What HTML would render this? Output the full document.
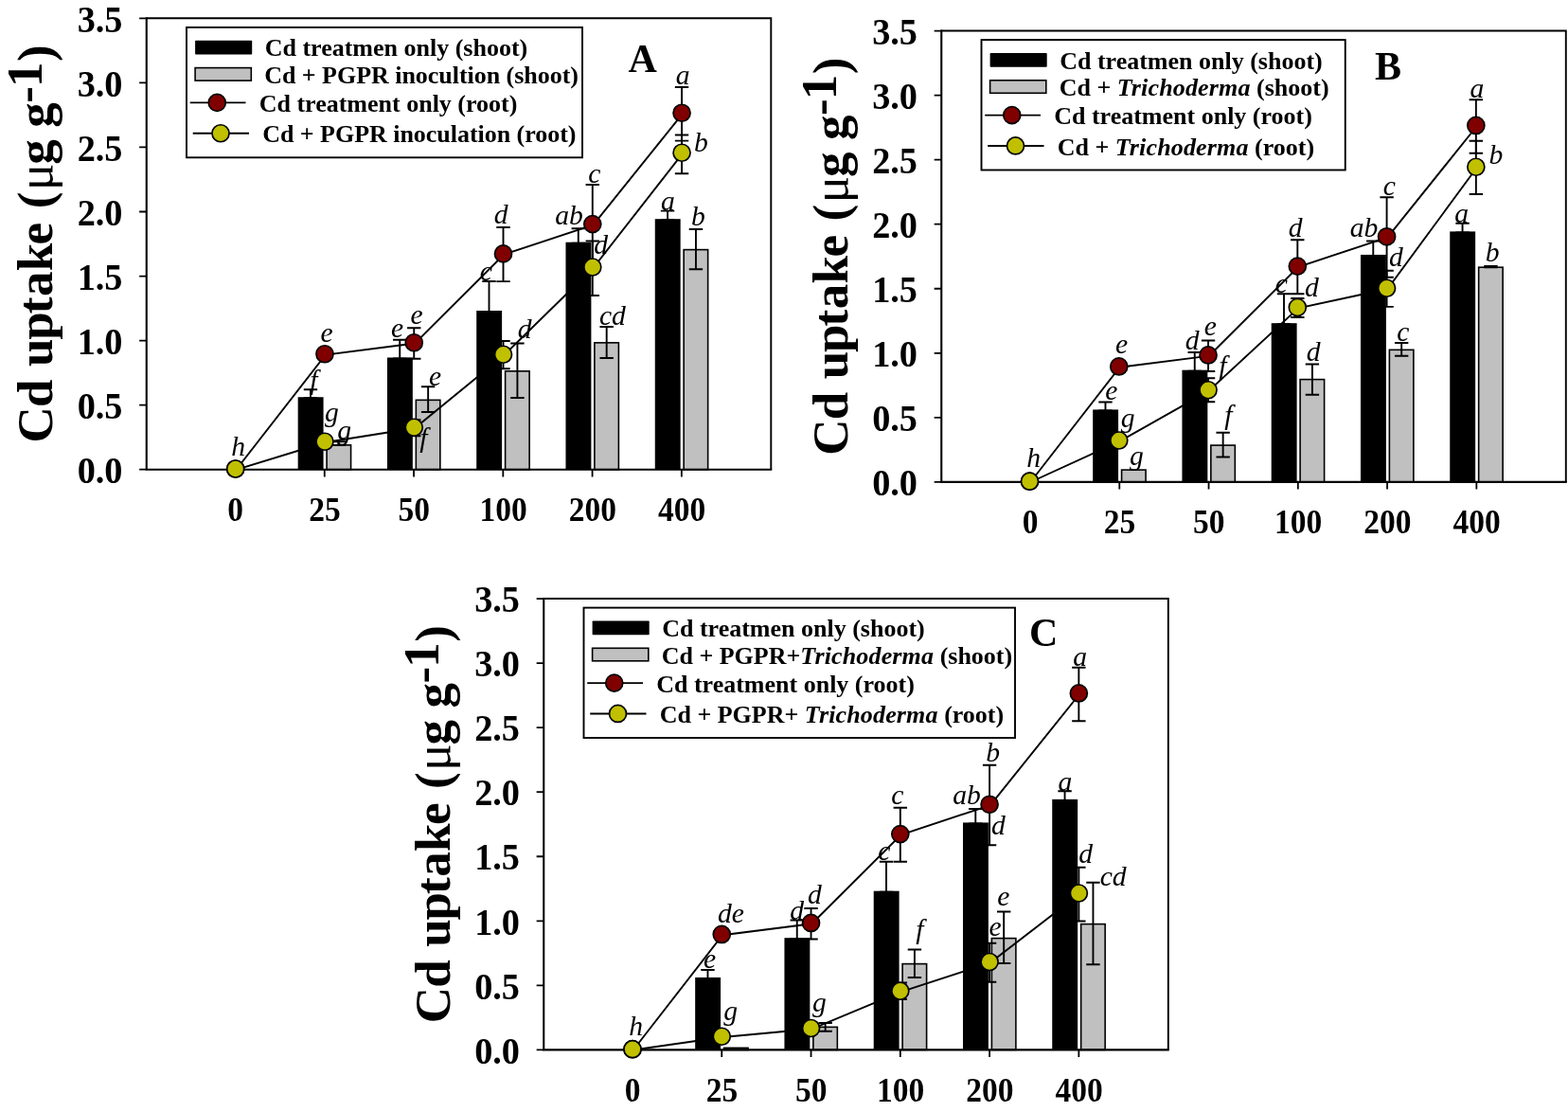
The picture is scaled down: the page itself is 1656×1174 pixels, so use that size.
<!DOCTYPE html>
<html lang="en">
<head>
<meta charset="utf-8">
<title>Cd uptake in shoot and root</title>
<style>html,body{margin:0;padding:0;background:#fff}svg{display:block}text{white-space:pre}</style>
</head>
<body>
<svg width="1656" height="1174" viewBox="0 0 1656 1174">
<rect width="1656" height="1174" fill="#fff"/>
<g transform="translate(0 0)">
<g>
<rect x="314.67" y="419.25" width="26.9" height="76.45" fill="#000"/>
<rect x="408.94" y="377.5" width="26.9" height="118.2" fill="#000"/>
<rect x="503.21" y="328" width="26.9" height="167.7" fill="#000"/>
<rect x="597.48" y="255.75" width="26.9" height="239.95" fill="#000"/>
<rect x="691.75" y="231.2" width="26.9" height="264.5" fill="#000"/>
<rect x="345.07" y="469.85" width="25.5" height="25.85" fill="#c0c0c0" stroke="#000" stroke-width="1.6"/>
<rect x="439.34" y="422.35" width="25.5" height="73.35" fill="#c0c0c0" stroke="#000" stroke-width="1.6"/>
<rect x="533.61" y="391.85" width="25.5" height="103.85" fill="#c0c0c0" stroke="#000" stroke-width="1.6"/>
<rect x="627.88" y="361.85" width="25.5" height="133.85" fill="#c0c0c0" stroke="#000" stroke-width="1.6"/>
<rect x="722.15" y="263.6" width="25.5" height="232.1" fill="#c0c0c0" stroke="#000" stroke-width="1.6"/>
</g>
<g fill="none" stroke="#000" stroke-width="1.9">
<path d="M327.97 411.25V420.25M320.77 411.25H335.17M320.77 420.25H335.17"/>
<path d="M357.87 466.25V470M350.67 466.25H365.07M350.67 470H365.07"/>
<path d="M422.24 358.75V378.5M415.04 358.75H429.44M415.04 378.5H429.44"/>
<path d="M452.14 408.25V435M444.94 408.25H459.34M444.94 435H459.34"/>
<path d="M516.51 297V329M509.31 297H523.71M509.31 329H523.71"/>
<path d="M546.41 362.5V420M539.21 362.5H553.61M539.21 420H553.61"/>
<path d="M610.78 241.25V256.75M603.58 241.25H617.98M603.58 256.75H617.98"/>
<path d="M640.68 345V378M633.48 345H647.88M633.48 378H647.88"/>
<path d="M705.05 222.6V232.2M697.85 222.6H712.25M697.85 232.2H712.25"/>
<path d="M734.95 242V284.25M727.75 242H742.15M727.75 284.25H742.15"/>
<path d="M437.24 346.25V378.75M430.04 346.25H444.44M430.04 378.75H444.44"/>
<path d="M437.24 443.3V460.2M430.04 443.3H444.44M430.04 460.2H444.44"/>
<path d="M531.51 240V297.1M524.31 240H538.71M524.31 297.1H538.71"/>
<path d="M531.51 360V389.25M524.31 360H538.71M524.31 389.25H538.71"/>
<path d="M625.78 195V279.6M618.58 195H632.98M618.58 279.6H632.98"/>
<path d="M625.78 254.5V312M618.58 254.5H632.98M618.58 312H632.98"/>
<path d="M720.05 92V148.6M712.85 92H727.25M712.85 148.6H727.25"/>
<path d="M720.05 142.5V183.25M712.85 142.5H727.25M712.85 183.25H727.25"/>
</g>
<g fill="none" stroke="#000" stroke-width="1.9" transform="translate(0.8 0.8)">
<polyline points="248.7,495 342.97,373.75 437.24,361.75 531.51,267.9 625.78,236.6 720.05,119.25"/>
<polyline points="248.7,495 342.97,466.25 437.24,451.25 531.51,374.25 625.78,282 720.05,161.25"/>
</g>
<g fill="none" stroke="#000">
<path d="M154.75 19.3H814.3V495.7" stroke-width="1.9"/>
<path d="M154.75 18.35V495.7H815.25" stroke-width="2.1"/>
<path d="M154.75 495.7h-7.6M154.75 427.65h-7.6M154.75 359.6h-7.6M154.75 291.55h-7.6M154.75 223.5h-7.6M154.75 155.45h-7.6M154.75 87.4h-7.6M154.75 19.35h-7.6M248.5 495.7v7.7M342.77 495.7v7.7M437.04 495.7v7.7M531.31 495.7v7.7M625.58 495.7v7.7M719.85 495.7v7.7" stroke-width="1.8"/>
</g>
<g stroke="#000" stroke-width="1.7">
<circle cx="248.7" cy="495" r="9.0" fill="#800000"/>
<circle cx="342.97" cy="373.75" r="9.0" fill="#800000"/>
<circle cx="437.24" cy="361.75" r="9.0" fill="#800000"/>
<circle cx="531.51" cy="267.9" r="9.0" fill="#800000"/>
<circle cx="625.78" cy="236.6" r="9.0" fill="#800000"/>
<circle cx="720.05" cy="119.25" r="9.0" fill="#800000"/>
<circle cx="248.7" cy="495" r="9.0" fill="#c0c000"/>
<circle cx="342.97" cy="466.25" r="9.0" fill="#c0c000"/>
<circle cx="437.24" cy="451.25" r="9.0" fill="#c0c000"/>
<circle cx="531.51" cy="374.25" r="9.0" fill="#c0c000"/>
<circle cx="625.78" cy="282" r="9.0" fill="#c0c000"/>
<circle cx="720.05" cy="161.25" r="9.0" fill="#c0c000"/>
</g>
<g font-family="'Liberation Serif', 'Times New Roman', Times, serif" font-weight="bold" fill="#000">
<g font-size="38.3" text-anchor="end">
<text transform="translate(129.5 509.9) scale(1 1.045)">0.0</text>
<text transform="translate(129.5 441.85) scale(1 1.045)">0.5</text>
<text transform="translate(129.5 373.8) scale(1 1.045)">1.0</text>
<text transform="translate(129.5 305.75) scale(1 1.045)">1.5</text>
<text transform="translate(129.5 237.7) scale(1 1.045)">2.0</text>
<text transform="translate(129.5 169.65) scale(1 1.045)">2.5</text>
<text transform="translate(129.5 101.6) scale(1 1.045)">3.0</text>
<text transform="translate(129.5 33.55) scale(1 1.045)">3.5</text>
</g>
<g font-size="33.5" text-anchor="middle">
<text transform="translate(248.7 550.2) scale(1 1.045)">0</text>
<text transform="translate(342.97 550.2) scale(1 1.045)">25</text>
<text transform="translate(437.24 550.2) scale(1 1.045)">50</text>
<text transform="translate(531.51 550.2) scale(1 1.045)">100</text>
<text transform="translate(625.78 550.2) scale(1 1.045)">200</text>
<text transform="translate(720.05 550.2) scale(1 1.045)">400</text>
</g>
<text transform="translate(55.3 467.5) rotate(-90)" font-size="53"><tspan x="0 37.4 50.4 80.4 108.8 136.25 154.4 181.3 209.1 222.1 247.3">Cd uptake (</tspan><tspan x="266.5" font-weight="normal">μ</tspan><tspan x="293.65 306.65 332.8">g g</tspan><tspan x="358.8 375.4" dy="-11.5">-1</tspan><tspan x="402.4" dy="11.5">)</tspan></text>
<text x="663.6" y="76.3" font-size="42">A</text>
</g>
<rect x="197" y="28.9" width="418" height="137.4" fill="#fff" stroke="#000" stroke-width="1.9"/>
<rect x="206.1" y="42.7" width="60.1" height="14.9" rx="0.8" fill="#000"/>
<rect x="206.1" y="71.6" width="59.2" height="13.5" fill="#c0c0c0" stroke="#000" stroke-width="1.6"/>
<path d="M200.7 108.4H259.5M203.7 140.75H263" fill="none" stroke="#000" stroke-width="1.9"/>
<circle cx="229.25" cy="108.4" r="9.0" fill="#800000" stroke="#000" stroke-width="1.7"/>
<circle cx="233" cy="140.75" r="9.0" fill="#c0c000" stroke="#000" stroke-width="1.7"/>
<g font-family="'Liberation Serif', 'Times New Roman', Times, serif" font-weight="bold" font-size="26" fill="#000">
<text x="279.7" y="59.2">Cd treatmen only (shoot)</text>
<text x="279.2" y="87.75" letter-spacing="-0.03">Cd + PGPR inocultion (shoot)</text>
<text x="273.7" y="117.7">Cd treatment only (root)</text>
<text x="277.2" y="150.25" letter-spacing="-0.03">Cd + PGPR inoculation (root)</text>
</g>
<g font-family="'Liberation Serif', 'Times New Roman', Times, serif" font-style="italic" font-size="29.6" fill="#000">
<text x="244.2" y="480.7">h</text>
<text x="338.45" y="360.7">e</text>
<text x="327.2" y="410.7">f</text>
<text x="342.95" y="445.15">g</text>
<text x="356.2" y="463.9">g</text>
<text x="412.95" y="356.45">e</text>
<text x="433.5" y="341.95">e</text>
<text x="452.9" y="407.45">e</text>
<text x="443.2" y="472.2">f</text>
<text x="506.7" y="296.2">c</text>
<text x="521.7" y="236.45">d</text>
<text x="546.7" y="356.95">d</text>
<text x="586.2" y="236.95">ab</text>
<text x="621.2" y="192.7">c</text>
<text x="627.2" y="268.2">d</text>
<text x="632.95" y="343.2">cd</text>
<text x="713.7" y="89.45">a</text>
<text x="732.95" y="160.2">b</text>
<text x="697.95" y="221.95">a</text>
<text x="729.95" y="238.2">b</text>
</g>
</g>
<g transform="translate(839.5 13.2)">
<g>
<rect x="314.67" y="419.25" width="26.9" height="76.45" fill="#000"/>
<rect x="408.94" y="377.5" width="26.9" height="118.2" fill="#000"/>
<rect x="503.21" y="328" width="26.9" height="167.7" fill="#000"/>
<rect x="597.48" y="255.75" width="26.9" height="239.95" fill="#000"/>
<rect x="691.75" y="231.2" width="26.9" height="264.5" fill="#000"/>
<rect x="345.07" y="482.9" width="25.5" height="12.8" fill="#c0c0c0" stroke="#000" stroke-width="1.6"/>
<rect x="439.34" y="456.9" width="25.5" height="38.8" fill="#c0c0c0" stroke="#000" stroke-width="1.6"/>
<rect x="533.61" y="387.4" width="25.5" height="108.3" fill="#c0c0c0" stroke="#000" stroke-width="1.6"/>
<rect x="627.88" y="356.15" width="25.5" height="139.55" fill="#c0c0c0" stroke="#000" stroke-width="1.6"/>
<rect x="722.15" y="269" width="25.5" height="226.7" fill="#c0c0c0" stroke="#000" stroke-width="1.6"/>
</g>
<g fill="none" stroke="#000" stroke-width="1.9">
<path d="M327.97 411.25V420.25M320.77 411.25H335.17M320.77 420.25H335.17"/>
<path d="M422.24 358.75V378.5M415.04 358.75H429.44M415.04 378.5H429.44"/>
<path d="M452.14 443.55V469.3M444.94 443.55H459.34M444.94 469.3H459.34"/>
<path d="M516.51 297V329M509.31 297H523.71M509.31 329H523.71"/>
<path d="M546.41 371.3V403.55M539.21 371.3H553.61M539.21 403.55H553.61"/>
<path d="M610.78 241.25V256.75M603.58 241.25H617.98M603.58 256.75H617.98"/>
<path d="M640.68 348.8V362.55M633.48 348.8H647.88M633.48 362.55H647.88"/>
<path d="M705.05 222.6V232.2M697.85 222.6H712.25M697.85 232.2H712.25"/>
<path d="M734.95 267.8V269M727.75 267.8H742.15M727.75 269H742.15"/>
<path d="M436.54 346.25V378.75M429.34 346.25H443.74M429.34 378.75H443.74"/>
<path d="M436.54 386.05V411.05M429.34 386.05H443.74M429.34 411.05H443.74"/>
<path d="M530.81 240V297.1M523.61 240H538.01M523.61 297.1H538.01"/>
<path d="M530.81 301.8V321.8M523.61 301.8H538.01M523.61 321.8H538.01"/>
<path d="M625.08 195V279.6M617.88 195H632.28M617.88 279.6H632.28"/>
<path d="M625.08 272.5V310.7M617.88 272.5H632.28M617.88 310.7H632.28"/>
<path d="M719.35 92V148.6M712.15 92H726.55M712.15 148.6H726.55"/>
<path d="M719.35 135.55V191.8M712.15 135.55H726.55M712.15 191.8H726.55"/>
</g>
<g fill="none" stroke="#000" stroke-width="1.9" transform="translate(0.8 0.8)">
<polyline points="248,495 342.27,373.75 436.54,361.75 530.81,267.9 625.08,236.6 719.35,119.25"/>
<polyline points="248,495 342.27,451.8 436.54,398.55 530.81,311.3 625.08,291.05 719.35,163.05"/>
</g>
<g fill="none" stroke="#000">
<path d="M154.75 19.3H814.3V495.7" stroke-width="1.9"/>
<path d="M154.75 18.35V495.7H815.25" stroke-width="2.1"/>
<path d="M154.75 495.7h-7.6M154.75 427.65h-7.6M154.75 359.6h-7.6M154.75 291.55h-7.6M154.75 223.5h-7.6M154.75 155.45h-7.6M154.75 87.4h-7.6M154.75 19.35h-7.6M248.5 495.7v7.7M342.77 495.7v7.7M437.04 495.7v7.7M531.31 495.7v7.7M625.58 495.7v7.7M719.85 495.7v7.7" stroke-width="1.8"/>
</g>
<g stroke="#000" stroke-width="1.7">
<circle cx="248" cy="495" r="9.0" fill="#800000"/>
<circle cx="342.27" cy="373.75" r="9.0" fill="#800000"/>
<circle cx="436.54" cy="361.75" r="9.0" fill="#800000"/>
<circle cx="530.81" cy="267.9" r="9.0" fill="#800000"/>
<circle cx="625.08" cy="236.6" r="9.0" fill="#800000"/>
<circle cx="719.35" cy="119.25" r="9.0" fill="#800000"/>
<circle cx="248" cy="495" r="9.0" fill="#c0c000"/>
<circle cx="342.27" cy="451.8" r="9.0" fill="#c0c000"/>
<circle cx="436.54" cy="398.55" r="9.0" fill="#c0c000"/>
<circle cx="530.81" cy="311.3" r="9.0" fill="#c0c000"/>
<circle cx="625.08" cy="291.05" r="9.0" fill="#c0c000"/>
<circle cx="719.35" cy="163.05" r="9.0" fill="#c0c000"/>
</g>
<g font-family="'Liberation Serif', 'Times New Roman', Times, serif" font-weight="bold" fill="#000">
<g font-size="38.3" text-anchor="end">
<text transform="translate(129.5 509.9) scale(1 1.045)">0.0</text>
<text transform="translate(129.5 441.85) scale(1 1.045)">0.5</text>
<text transform="translate(129.5 373.8) scale(1 1.045)">1.0</text>
<text transform="translate(129.5 305.75) scale(1 1.045)">1.5</text>
<text transform="translate(129.5 237.7) scale(1 1.045)">2.0</text>
<text transform="translate(129.5 169.65) scale(1 1.045)">2.5</text>
<text transform="translate(129.5 101.6) scale(1 1.045)">3.0</text>
<text transform="translate(129.5 33.55) scale(1 1.045)">3.5</text>
</g>
<g font-size="33.5" text-anchor="middle">
<text transform="translate(248.7 550.2) scale(1 1.045)">0</text>
<text transform="translate(342.97 550.2) scale(1 1.045)">25</text>
<text transform="translate(437.24 550.2) scale(1 1.045)">50</text>
<text transform="translate(531.51 550.2) scale(1 1.045)">100</text>
<text transform="translate(625.78 550.2) scale(1 1.045)">200</text>
<text transform="translate(720.05 550.2) scale(1 1.045)">400</text>
</g>
<text transform="translate(55.3 467.5) rotate(-90)" font-size="53"><tspan x="0 37.4 50.4 80.4 108.8 136.25 154.4 181.3 209.1 222.1 247.3">Cd uptake (</tspan><tspan x="266.5" font-weight="normal">μ</tspan><tspan x="293.65 306.65 332.8">g g</tspan><tspan x="358.8 375.4" dy="-11.5">-1</tspan><tspan x="402.4" dy="11.5">)</tspan></text>
<text x="612.5" y="70.4" font-size="42">B</text>
</g>
<rect x="197" y="28.9" width="384.25" height="137.4" fill="#fff" stroke="#000" stroke-width="1.9"/>
<rect x="206.1" y="42.7" width="60.1" height="14.9" rx="0.8" fill="#000"/>
<rect x="206.1" y="71.6" width="59.2" height="13.5" fill="#c0c0c0" stroke="#000" stroke-width="1.6"/>
<path d="M200.7 108.4H259.5M203.7 140.75H263" fill="none" stroke="#000" stroke-width="1.9"/>
<circle cx="229.25" cy="108.4" r="9.0" fill="#800000" stroke="#000" stroke-width="1.7"/>
<circle cx="233" cy="140.75" r="9.0" fill="#c0c000" stroke="#000" stroke-width="1.7"/>
<g font-family="'Liberation Serif', 'Times New Roman', Times, serif" font-weight="bold" font-size="26" fill="#000">
<text x="279.7" y="59.6">Cd treatmen only (shoot)</text>
<text x="279.2" y="88.15">Cd + <tspan font-style="italic" letter-spacing="0.15">Trichoderma</tspan> (shoot)</text>
<text x="273.7" y="118.1">Cd treatment only (root)</text>
<text x="277.2" y="150.65">Cd + <tspan font-style="italic" letter-spacing="0.15">Trichoderma</tspan> (root)</text>
</g>
<g font-family="'Liberation Serif', 'Times New Roman', Times, serif" font-style="italic" font-size="29.6" fill="#000">
<text x="244.7" y="479.5">h</text>
<text x="338.45" y="360">e</text>
<text x="327.7" y="408.75">e</text>
<text x="344.2" y="438.2">g</text>
<text x="353.45" y="478.2">g</text>
<text x="412.2" y="355.5">d</text>
<text x="432.2" y="341.25">e</text>
<text x="447.7" y="382.5">f</text>
<text x="453.7" y="434.5">f</text>
<text x="507.2" y="296.25">c</text>
<text x="538.45" y="300">d</text>
<text x="540.2" y="368">d</text>
<text x="521.2" y="237">d</text>
<text x="586.2" y="237">ab</text>
<text x="621.2" y="192.5">c</text>
<text x="627.45" y="267.5">d</text>
<text x="635.7" y="347">c</text>
<text x="712.95" y="90">a</text>
<text x="732.95" y="160">b</text>
<text x="696.7" y="222">a</text>
<text x="729.2" y="262.5">b</text>
</g>
</g>
<g transform="translate(419.5 612.7)">
<g>
<rect x="314.67" y="419.25" width="26.9" height="76.45" fill="#000"/>
<rect x="408.94" y="377.5" width="26.9" height="118.2" fill="#000"/>
<rect x="503.21" y="328" width="26.9" height="167.7" fill="#000"/>
<rect x="597.48" y="255.75" width="26.9" height="239.95" fill="#000"/>
<rect x="691.75" y="231.2" width="26.9" height="264.5" fill="#000"/>
<rect x="345.07" y="493.65" width="25.5" height="2.05" fill="#c0c0c0" stroke="#000" stroke-width="1.6"/>
<rect x="439.34" y="471.65" width="25.5" height="24.05" fill="#c0c0c0" stroke="#000" stroke-width="1.6"/>
<rect x="533.61" y="404.9" width="25.5" height="90.8" fill="#c0c0c0" stroke="#000" stroke-width="1.6"/>
<rect x="627.88" y="377.9" width="25.5" height="117.8" fill="#c0c0c0" stroke="#000" stroke-width="1.6"/>
<rect x="722.15" y="362.9" width="25.5" height="132.8" fill="#c0c0c0" stroke="#000" stroke-width="1.6"/>
</g>
<g fill="none" stroke="#000" stroke-width="1.9">
<path d="M327.97 411.25V420.25M320.77 411.25H335.17M320.77 420.25H335.17"/>
<path d="M422.24 358.75V378.5M415.04 358.75H429.44M415.04 378.5H429.44"/>
<path d="M452.14 467.3V476.05M444.94 467.3H459.34M444.94 476.05H459.34"/>
<path d="M516.51 297V329M509.31 297H523.71M509.31 329H523.71"/>
<path d="M546.41 389.8V419.3M539.21 389.8H553.61M539.21 419.3H553.61"/>
<path d="M610.78 241.25V256.75M603.58 241.25H617.98M603.58 256.75H617.98"/>
<path d="M640.68 349.8V404.3M633.48 349.8H647.88M633.48 404.3H647.88"/>
<path d="M705.05 222.6V232.2M697.85 222.6H712.25M697.85 232.2H712.25"/>
<path d="M734.95 319.05V405.55M727.75 319.05H742.15M727.75 405.55H742.15"/>
<path d="M437.04 346.25V378.75M429.84 346.25H444.24M429.84 378.75H444.24"/>
<path d="M531.31 240V297.1M524.11 240H538.51M524.11 297.1H538.51"/>
<path d="M531.31 424.8V442.3M524.11 424.8H538.51M524.11 442.3H538.51"/>
<path d="M625.58 195V279.6M618.38 195H632.78M618.38 279.6H632.78"/>
<path d="M625.58 383.05V424.05M618.38 383.05H632.78M618.38 424.05H632.78"/>
<path d="M719.85 92V148.6M712.65 92H727.05M712.65 148.6H727.05"/>
<path d="M719.85 303.05V359.8M712.65 303.05H727.05M712.65 359.8H727.05"/>
</g>
<g fill="none" stroke="#000" stroke-width="1.9" transform="translate(0.8 0.8)">
<polyline points="248.5,495 342.77,373.75 437.04,361.75 531.31,267.9 625.58,236.6 719.85,119.25"/>
<polyline points="248.5,495 342.77,481.55 437.04,472.8 531.31,433.55 625.58,402.8 719.85,330.3"/>
</g>
<g fill="none" stroke="#000">
<path d="M154.75 19.3H814.3V495.7" stroke-width="1.9"/>
<path d="M154.75 18.35V495.7H815.25" stroke-width="2.1"/>
<path d="M154.75 495.7h-7.6M154.75 427.65h-7.6M154.75 359.6h-7.6M154.75 291.55h-7.6M154.75 223.5h-7.6M154.75 155.45h-7.6M154.75 87.4h-7.6M154.75 19.35h-7.6M248.5 495.7v7.7M342.77 495.7v7.7M437.04 495.7v7.7M531.31 495.7v7.7M625.58 495.7v7.7M719.85 495.7v7.7" stroke-width="1.8"/>
</g>
<g stroke="#000" stroke-width="1.7">
<circle cx="248.5" cy="495" r="9.0" fill="#800000"/>
<circle cx="342.77" cy="373.75" r="9.0" fill="#800000"/>
<circle cx="437.04" cy="361.75" r="9.0" fill="#800000"/>
<circle cx="531.31" cy="267.9" r="9.0" fill="#800000"/>
<circle cx="625.58" cy="236.6" r="9.0" fill="#800000"/>
<circle cx="719.85" cy="119.25" r="9.0" fill="#800000"/>
<circle cx="248.5" cy="495" r="9.0" fill="#c0c000"/>
<circle cx="342.77" cy="481.55" r="9.0" fill="#c0c000"/>
<circle cx="437.04" cy="472.8" r="9.0" fill="#c0c000"/>
<circle cx="531.31" cy="433.55" r="9.0" fill="#c0c000"/>
<circle cx="625.58" cy="402.8" r="9.0" fill="#c0c000"/>
<circle cx="719.85" cy="330.3" r="9.0" fill="#c0c000"/>
</g>
<g font-family="'Liberation Serif', 'Times New Roman', Times, serif" font-weight="bold" fill="#000">
<g font-size="38.3" text-anchor="end">
<text transform="translate(129.5 509.9) scale(1 1.045)">0.0</text>
<text transform="translate(129.5 441.85) scale(1 1.045)">0.5</text>
<text transform="translate(129.5 373.8) scale(1 1.045)">1.0</text>
<text transform="translate(129.5 305.75) scale(1 1.045)">1.5</text>
<text transform="translate(129.5 237.7) scale(1 1.045)">2.0</text>
<text transform="translate(129.5 169.65) scale(1 1.045)">2.5</text>
<text transform="translate(129.5 101.6) scale(1 1.045)">3.0</text>
<text transform="translate(129.5 33.55) scale(1 1.045)">3.5</text>
</g>
<g font-size="33.5" text-anchor="middle">
<text transform="translate(248.7 550.2) scale(1 1.045)">0</text>
<text transform="translate(342.97 550.2) scale(1 1.045)">25</text>
<text transform="translate(437.24 550.2) scale(1 1.045)">50</text>
<text transform="translate(531.51 550.2) scale(1 1.045)">100</text>
<text transform="translate(625.78 550.2) scale(1 1.045)">200</text>
<text transform="translate(720.05 550.2) scale(1 1.045)">400</text>
</g>
<text transform="translate(55.3 467.5) rotate(-90)" font-size="53"><tspan x="0 37.4 50.4 80.4 108.8 136.25 154.4 181.3 209.1 222.1 247.3">Cd uptake (</tspan><tspan x="266.5" font-weight="normal">μ</tspan><tspan x="293.65 306.65 332.8">g g</tspan><tspan x="358.8 375.4" dy="-11.5">-1</tspan><tspan x="402.4" dy="11.5">)</tspan></text>
<text x="667.6" y="69.3" font-size="42">C</text>
</g>
<rect x="197" y="28.9" width="455.5" height="137.4" fill="#fff" stroke="#000" stroke-width="1.9"/>
<rect x="206.1" y="42.7" width="60.1" height="14.9" rx="0.8" fill="#000"/>
<rect x="206.1" y="71.6" width="59.2" height="13.5" fill="#c0c0c0" stroke="#000" stroke-width="1.6"/>
<path d="M200.7 108.4H259.5M203.7 140.75H263" fill="none" stroke="#000" stroke-width="1.9"/>
<circle cx="229.25" cy="108.4" r="9.0" fill="#800000" stroke="#000" stroke-width="1.7"/>
<circle cx="233" cy="140.75" r="9.0" fill="#c0c000" stroke="#000" stroke-width="1.7"/>
<g font-family="'Liberation Serif', 'Times New Roman', Times, serif" font-weight="bold" font-size="26" fill="#000">
<text x="279.7" y="59.6">Cd treatmen only (shoot)</text>
<text x="279.2" y="88.15">Cd + PGPR+<tspan font-style="italic" letter-spacing="0.15">Trichoderma</tspan> (shoot)</text>
<text x="273.7" y="118.1">Cd treatment only (root)</text>
<text x="277.2" y="150.65">Cd + PGPR+ <tspan font-style="italic" letter-spacing="0.15">Trichoderma</tspan> (root)</text>
</g>
<g font-family="'Liberation Serif', 'Times New Roman', Times, serif" font-style="italic" font-size="29.6" fill="#000">
<text x="244.7" y="480">h</text>
<text x="338.45" y="361">de</text>
<text x="323.45" y="409.25">e</text>
<text x="344.7" y="464.2">g</text>
<text x="414.7" y="358.5">d</text>
<text x="433.45" y="341.25">d</text>
<text x="438.45" y="455.7">g</text>
<text x="507.7" y="295">c</text>
<text x="521.7" y="236.5">c</text>
<text x="547.7" y="378">f</text>
<text x="586.7" y="236.75">ab</text>
<text x="621.7" y="191.5">b</text>
<text x="627.45" y="268">d</text>
<text x="633.7" y="343.75">e</text>
<text x="624.95" y="375.5">e</text>
<text x="713.7" y="90">a</text>
<text x="698" y="222">a</text>
<text x="719.7" y="298.5">d</text>
<text x="742.2" y="322.25">cd</text>
</g>
</g>
</svg>
</body>
</html>
